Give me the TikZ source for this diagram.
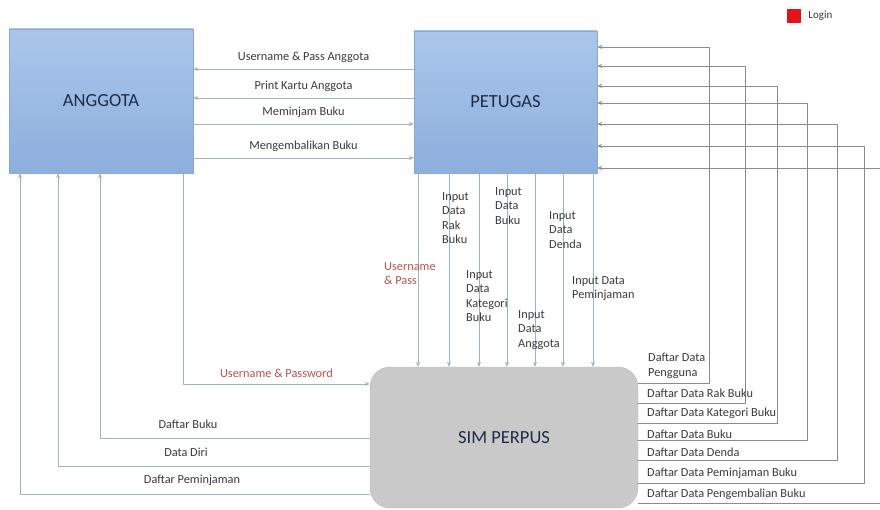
\documentclass[tikz,border=0pt]{standalone}
\usepackage{fontspec}
\setmainfont{Carlito}
\usetikzlibrary{arrows.meta,calc,positioning}
\definecolor{boxtop}{HTML}{AAC6EA}
\definecolor{boxbot}{HTML}{8DAFDD}
\definecolor{boxline}{HTML}{86A8D4}
\definecolor{boxtext}{HTML}{1E2C48}
\definecolor{simfill}{HTML}{C9C9C9}
\definecolor{simline}{HTML}{BDBDBD}
\definecolor{flowline}{HTML}{9DB2C2}
\definecolor{darkline}{HTML}{868C93}
\definecolor{lbltext}{HTML}{3A3A3A}
\definecolor{loginred}{HTML}{E3131B}
\definecolor{passred}{HTML}{C0504D}

\begin{document}
\begin{tikzpicture}[x=1pt,y=-1pt,line join=round,line cap=round,
	actor/.style={draw=boxline,top color=boxtop,bottom color=boxbot,text=boxtext,font=\fontsize{18.5}{22}\selectfont},
	sysbox/.style={draw=simline,fill=simfill,rounded corners=20pt,text=boxtext,font=\fontsize{18.5}{22}\selectfont},
	flow/.style={draw=flowline,line width=0.8pt,-{Stealth[length=5pt,width=4pt]}},
	lbl/.style={font=\fontsize{12.3}{14.5}\selectfont,text=lbltext,inner sep=0pt,align=left},
	redlbl/.style={lbl,text=passred}]
		\useasboundingbox (0,0) rectangle (880,510);
		\node[actor,minimum width=184pt,minimum height=144pt] (anggota) at (101,101) {ANGGOTA};
		\node[actor,minimum width=183pt,minimum height=142pt] (petugas) at (505.5,102) {PETUGAS};
		\node[sysbox,minimum width=268pt,minimum height=141pt] (sim) at (504,437.5) {SIM PERPUS};
		\node[fill=loginred,minimum size=14pt,inner sep=0pt] (loginkey) at (794,16) {};
		\node[lbl,right=7pt of loginkey,font=\fontsize{11}{13}\selectfont] (logintxt) {Login};
		% anggota <-> petugas
		\foreach \y/\t [count=\n] in {69/Username \& Pass Anggota,98/Print Kartu Anggota}
			\draw[flow] (petugas.west |- 0,\y) -- node[lbl,above=6pt] (pa\n) {\t} (anggota.east |- 0,\y);
		\foreach \y/\t [count=\n] in {124/Meminjam Buku,158/Mengembalikan Buku}
			\draw[flow] (anggota.east |- 0,\y) -- node[lbl,above=6pt] (ap\n) {\t} (petugas.west |- 0,\y);
		% input petugas
		\foreach \x in {418,449,479,507,535,563,593}
			\draw[flow] (petugas.south -| \x,0) -- (sim.north -| \x,0);
		\node[redlbl,anchor=north west] (upass) at (384,262) {Username\\\& Pass};
		\foreach \x/\y/\t [count=\n] in {442/192/{Input\\Data\\Rak\\Buku},466/270/{Input\\Data\\Kategori\\Buku},495/187/{Input\\Data\\Buku},518/310/{Input\\Data\\Anggota},549/211/{Input\\Data\\Denda},572/276/{Input Data\\Peminjaman}}
			\node[lbl,anchor=north west] (in\n) at (\x,\y) {\t};
		% daftar ke petugas
		\foreach \a/\b/\c in {383/709/47,403/745/66,423/777/86,440/807/103,460/837/124,483/864/146,503/886/168}
			\draw[flow,draw=darkline] (sim.east |- 0,\a) -- (\b,\a) |- (petugas.east |- 0,\c);
		\node[lbl,anchor=north west] (dd0) at (648,353) {Daftar Data\\Pengguna};
		\foreach \y/\t [count=\n] in {393/Daftar Data Rak Buku,413/Daftar Data Kategori Buku,434/Daftar Data Buku,452/Daftar Data Denda,473/Daftar Data Peminjaman Buku,494/Daftar Data Pengembalian Buku}
			\node[lbl,anchor=west] (dd\n) at (647,\y) {\t};
		% anggota <-> sim
		\draw[flow] (anggota.south -| 183,0) |- node[redlbl,pos=0.75,above=6pt] (upw) {Username \& Password} (sim.west |- 0,384);
		\foreach \a/\b/\c/\t [count=\n] in {438/100/188/Daftar Buku,466/58/186/Data Diri,494/20/192/Daftar Peminjaman}{
			\draw[flow] (sim.west |- 0,\a) -| (anggota.south -| \b,0);
			\node[lbl] (sa\n) at (\c,\a-14) {\t};}
\end{tikzpicture}
\end{document}
